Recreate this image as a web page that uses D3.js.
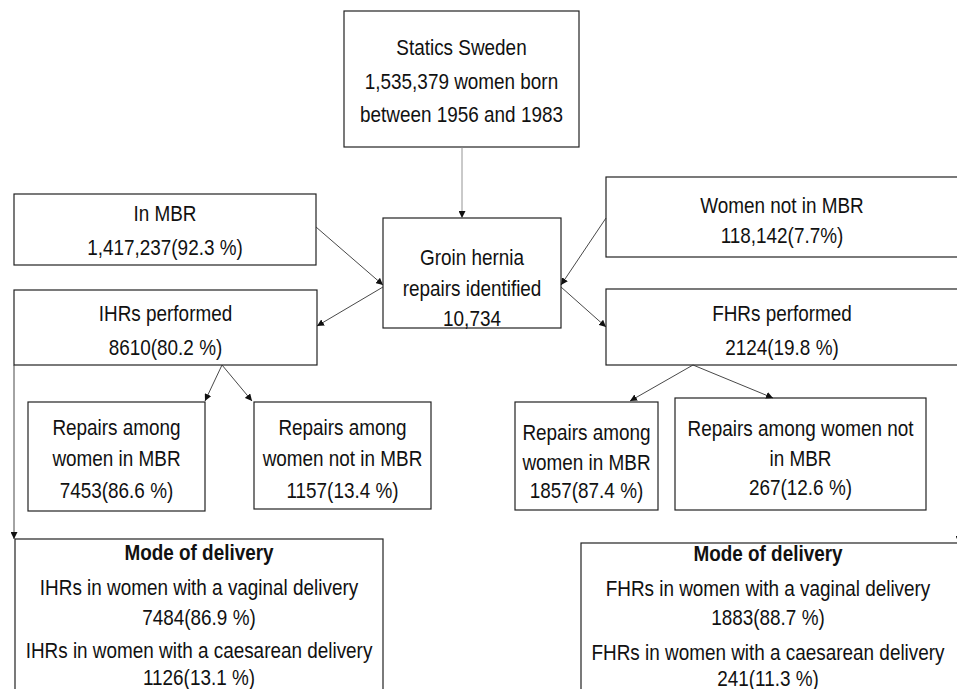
<!DOCTYPE html>
<html>
<head>
<meta charset="utf-8">
<script src="https://cdn.jsdelivr.net/npm/d3@7"></script>
<style>
  body { margin: 0; background: #fff; }
  svg { display: block; }
  .box { fill: #fff; stroke: #222; stroke-width: 1.2px; }
  .lbl { font-family: "Liberation Sans", Arial, sans-serif; font-size: 22px; fill: #111; }
  .link { stroke: #333; stroke-width: 0.9px; fill: none; }
</style>
</head>
<body>
<div id="chart"></div>
<script>
// box ids and their text lines
var nodeIds = ["stats", "inMBR", "notMBR", "groin", "ihr", "fhr", "ihrIn", "ihrNot", "fhrIn", "fhrNot", "ihrMode", "fhrMode"];
var nodeLines = [
  ["Statics Sweden", "1,535,379 women born", "between 1956 and 1983"],
  ["In MBR", "1,417,237(92.3 %)"],
  ["Women not in MBR", "118,142(7.7%)"],
  ["Groin hernia", "repairs identified", "10,734"],
  ["IHRs performed", "8610(80.2 %)"],
  ["FHRs performed", "2124(19.8 %)"],
  ["Repairs among", "women in MBR", "7453(86.6 %)"],
  ["Repairs among", "women not in MBR", "1157(13.4 %)"],
  ["Repairs among", "women in MBR", "1857(87.4 %)"],
  ["Repairs among women not", "in MBR", "267(12.6 %)"],
  ["Mode of delivery", "IHRs in women with a vaginal delivery", "7484(86.9 %)", "IHRs in women with a caesarean delivery", "1126(13.1 %)"],
  ["Mode of delivery", "FHRs in women with a vaginal delivery", "1883(88.7 %)", "FHRs in women with a caesarean delivery", "241(11.3 %)"]
];
var boldFirst = ["ihrMode", "fhrMode"];
// links: from -> to
var linkFrom = ["stats", "inMBR", "notMBR", "groin", "groin", "ihr", "ihr", "fhr", "fhr", "ihr", "fhr"];
var linkTo   = ["groin", "groin", "groin", "ihr", "fhr", "ihrIn", "ihrNot", "fhrIn", "fhrNot", "ihrMode", "fhrMode"];

// layout (pixel positions of boxes, text lines and link ends)
var layout = {
  stats:   {x: 344, y: 11,  w: 235, h: 136, ly: [47, 81, 114]},
  inMBR:   {x: 14,  y: 194, w: 302, h: 71,  ly: [213, 247]},
  notMBR:  {x: 606, y: 177, w: 360, h: 80,  ly: [205, 235], cx: 782},
  groin:   {x: 383, y: 218, w: 178, h: 110, ly: [257, 288, 318]},
  ihr:     {x: 14,  y: 290, w: 303, h: 75,  ly: [313, 347]},
  fhr:     {x: 606, y: 289, w: 360, h: 76,  ly: [313, 347], cx: 782},
  ihrIn:   {x: 28,  y: 402, w: 177, h: 109, ly: [427, 458, 490]},
  ihrNot:  {x: 254, y: 402, w: 177, h: 107, ly: [427, 458, 490]},
  fhrIn:   {x: 515, y: 402, w: 143, h: 108, ly: [432, 462, 490]},
  fhrNot:  {x: 675, y: 398, w: 251, h: 112, ly: [428, 458, 487]},
  ihrMode: {x: 15,  y: 539, w: 368, h: 200, ly: [552, 587, 617, 650, 677]},
  fhrMode: {x: 581, y: 543, w: 390, h: 200, ly: [553, 588, 617, 652, 678], cx: 768}
};
var linkPts = [
  [[462, 147], [462, 218]],
  [[316, 227], [383, 285]],
  [[606, 218], [561, 285]],
  [[383, 287], [317, 326]],
  [[561, 287], [606, 327]],
  [[222, 365], [205, 401]],
  [[222, 365], [252, 401]],
  [[693, 365], [630, 401]],
  [[693, 365], [773, 398]],
  [[14, 365], [14, 539]],
  [[959, 365], [959, 543]]
];
var squeeze = 0.86; // narrow the glyphs, the original font is a condensed one

var width = 957, height = 689;

var svg = d3.select("#chart").append("svg")
  .attr("width", width)
  .attr("height", height);

svg.append("defs").append("marker")
  .attr("id", "arr")
  .attr("viewBox", "0 0 10 10")
  .attr("refX", 10).attr("refY", 5)
  .attr("markerWidth", 7).attr("markerHeight", 7)
  .attr("markerUnits", "userSpaceOnUse")
  .attr("orient", "auto")
  .append("path")
  .attr("d", "M0,0L10,5L0,10Z")
  .attr("fill", "#111");

var nodes = nodeIds.map(function(id, i) {
  return {id: id, lines: nodeLines[i], pos: layout[id]};
});

var g = svg.selectAll("g.node")
  .data(nodes)
  .enter().append("g")
  .attr("class", "node");

g.append("rect")
  .attr("class", "box")
  .attr("x", function(d) { return d.pos.x; })
  .attr("y", function(d) { return d.pos.y; })
  .attr("width", function(d) { return d.pos.w; })
  .attr("height", function(d) { return d.pos.h; });

g.each(function(d) {
  var cx = d.pos.cx != null ? d.pos.cx : d.pos.x + d.pos.w / 2;
  d3.select(this).selectAll("text")
    .data(d.lines)
    .enter().append("text")
    .attr("class", "lbl")
    .attr("transform", function(t, j) { return "translate(" + cx + "," + d.pos.ly[j] + ") scale(" + squeeze + ",1)"; })
    .attr("text-anchor", "middle")
    .attr("dominant-baseline", "central")
    .style("font-weight", function(t, j) { return (j == 0 && boldFirst.indexOf(d.id) > -1) ? "bold" : "normal"; })
    .text(function(t) { return t; });
});

var line = d3.line();
svg.selectAll("path.link")
  .data(linkFrom.map(function(f, i) { return {from: f, to: linkTo[i], pts: linkPts[i]}; }))
  .enter().append("path")
  .attr("class", "link")
  .attr("d", function(d) { return line(d.pts); })
  .style("stroke", function(d) { return d.from == "stats" ? "#888" : "#333"; })
  .attr("marker-end", "url(#arr)");
</script>
</body>
</html>
